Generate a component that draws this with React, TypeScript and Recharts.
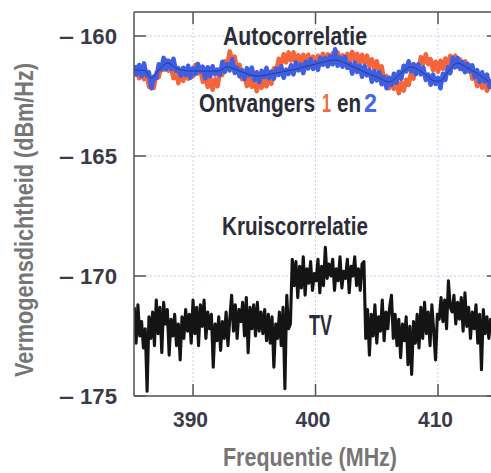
import React from 'react';
import { LineChart, Line, XAxis, YAxis, CartesianGrid } from 'recharts';

// assen
const X_DOMAIN: [number, number] = [385.18, 414.98];
const Y_DOMAIN: [number, number] = [-175, -159];
const X_TICKS = [390, 400, 410];
const Y_TICKS = [-175, -170, -165, -160];

// kruiscorrelatie, bemonsterd vanaf 385.2 MHz in stappen van 0.15 MHz
const KRUIS_START = 385.2;
const KRUIS_STEP = 0.15;
const kruiscorrelatie = [
  -171.3, -172.8, -171.2, -172.5, -171.9, -173.0, -172.2, -174.8, -171.7, -172.6,
  -171.5, -172.9, -171.0, -172.4, -171.3, -173.2, -171.1, -172.0, -171.4, -173.3,
  -171.8, -172.5, -171.6, -172.9, -172.0, -173.5, -171.7, -172.6, -171.4, -172.3,
  -171.6, -172.8, -171.0, -172.4, -171.3, -172.9, -171.2, -172.1, -171.0, -172.6,
  -171.5, -172.2, -171.6, -173.8, -172.0, -172.7, -171.7, -173.1, -171.9, -172.6,
  -171.5, -172.9, -171.8, -170.8, -172.3, -171.2, -172.6, -171.4, -171.9, -171.1,
  -172.5, -170.9, -173.2, -171.3, -172.2, -171.2, -172.5, -171.1, -172.3, -171.5,
  -172.4, -171.4, -172.7, -171.6, -172.8, -171.7, -173.8, -172.0, -172.6, -171.5,
  -172.9, -171.3, -174.7, -170.8, -172.2, -172.0,
  -169.3, -170.4, -169.4, -170.9, -169.6, -170.5, -169.2, -170.8, -169.7, -170.3,
  -169.4, -170.6, -169.9, -170.2, -169.3, -170.7, -169.6, -170.4, -168.8, -170.1,
  -169.5, -170.0, -169.3, -170.6, -169.7, -170.2, -169.2, -170.5, -169.8, -170.1,
  -169.3, -170.7, -169.6, -170.0, -169.2, -170.4, -169.7, -170.6, -169.5, -169.4,
  -172.6, -171.4, -173.3, -171.6, -172.5, -171.2, -172.8, -171.7, -172.3, -171.0,
  -172.7, -171.5, -172.2, -171.3, -170.8, -172.6, -171.6, -172.9, -171.8, -173.4,
  -172.0, -172.7, -171.7, -173.7, -172.1, -174.1, -171.9, -172.8, -171.6, -173.0,
  -171.3, -172.6, -171.1, -172.4, -171.5, -172.9, -171.2, -172.3, -173.5, -171.6,
  -171.8, -170.9, -171.9, -171.0, -172.2, -170.2, -171.3, -171.5, -170.8, -172.0,
  -171.1, -171.8, -170.9, -172.3, -170.7, -172.1, -171.3, -172.6, -171.5, -172.2,
  -171.2, -172.8, -171.6, -173.9, -171.4, -172.4, -171.7, -172.6, -171.8, -172.1,
];

// autocorrelatie, bemonsterd vanaf 385.2 MHz in stappen van 0.2 MHz
const AUTO_START = 385.2;
const AUTO_STEP = 0.2;
const ontvanger1 = [
  -161.68, -161.30, -161.76, -161.42, -161.80, -161.53, -162.11, -161.90, -162.16, -161.53,
  -161.72, -161.22, -161.41, -161.01, -161.45, -161.30, -161.76, -161.47, -161.97, -161.57,
  -161.87, -161.43, -161.78, -161.40, -161.68, -161.20, -161.56, -161.36, -161.91, -161.67,
  -162.12, -161.74, -162.24, -161.80, -162.10, -161.47, -161.62, -161.05, -161.16, -160.64,
  -161.08, -160.86, -161.41, -161.20, -161.80, -161.59, -162.09, -161.72, -162.12, -161.76,
  -162.30, -161.86, -162.16, -161.74, -162.10, -161.67, -161.99, -161.34, -161.45, -160.95,
  -161.18, -160.76, -161.10, -160.68, -161.02, -160.68, -161.12, -160.80, -161.18, -160.78,
  -161.16, -160.78, -161.24, -160.86, -161.24, -160.82, -161.12, -160.74, -161.14, -160.76,
  -161.14, -160.72, -161.06, -160.68, -161.16, -160.80, -161.18, -160.74, -161.08, -160.66,
  -161.03, -160.74, -161.16, -160.78, -161.12, -160.82, -161.26, -160.97, -161.39, -161.05,
  -161.47, -161.26, -161.87, -161.67, -162.18, -161.82, -162.20, -161.86, -162.38, -161.94,
  -162.28, -161.82, -162.04, -161.53, -161.78, -161.22, -161.39, -160.88, -161.14, -160.76,
  -161.18, -160.96, -161.43, -161.07, -161.49, -161.03, -161.37, -160.94, -161.24, -160.82,
  -161.12, -160.82, -161.26, -160.97, -161.39, -161.05, -161.47, -161.22, -161.78, -161.59,
  -162.09, -161.74, -162.16, -161.78, -162.28, -162.07, -161.95,
];
const ontvanger2 = [
  -161.22, -161.60, -161.21, -161.68, -161.14, -161.64, -161.51, -162.18, -161.69, -161.76,
  -161.18, -161.39, -160.91, -161.39, -161.03, -161.37, -160.95, -161.45, -161.34, -161.66,
  -161.32, -161.62, -161.24, -161.74, -161.34, -161.58, -161.16, -161.48, -161.28, -161.76,
  -161.30, -161.68, -161.26, -161.60, -161.40, -161.62, -161.07, -161.49, -161.17, -161.43,
  -160.97, -161.54, -161.32, -161.68, -161.42, -161.80, -161.34, -161.64, -161.32, -161.83,
  -161.51, -161.93, -161.45, -161.71, -161.33, -161.76, -161.48, -161.78, -161.36, -161.62,
  -161.26, -161.74, -161.40, -161.58, -161.22, -161.60, -161.10, -161.43, -161.19, -161.55,
  -161.07, -161.35, -160.97, -161.37, -161.09, -161.41, -160.91, -161.20, -160.92, -161.26,
  -160.84, -161.18, -160.55, -161.24, -160.90, -161.28, -160.87, -161.33, -161.15, -161.57,
  -161.11, -161.50, -161.24, -161.70, -161.24, -161.64, -161.42, -161.91, -161.47, -161.85,
  -161.51, -162.01, -161.71, -162.18, -161.74, -162.04, -161.57, -161.95, -161.49, -161.78,
  -161.24, -161.48, -161.05, -161.47, -161.17, -161.59, -161.18, -161.60, -161.30, -161.83,
  -161.61, -162.03, -161.61, -162.00, -161.74, -162.18, -161.57, -161.83, -161.30, -161.55,
  -160.91, -161.31, -160.91, -161.37, -161.09, -161.51, -161.15, -161.48, -161.22, -161.72,
  -161.42, -161.91, -161.51, -161.89, -161.61, -162.12, -161.80,
];

// donkere middenlijn in de blauwe band
const middenFreq = [
  385.2, 386.0, 386.6, 387.2, 387.9, 388.8, 389.8, 391.0, 392.0, 392.8,
  393.8, 395.2, 396.8, 398.4, 400.0, 401.6, 402.6, 403.8, 405.2, 406.0,
  406.8, 407.8, 408.8, 409.8, 410.2, 410.8, 411.6, 412.4, 413.4, 414.2,
];
const midden = [
  -161.42, -161.42, -161.75, -161.42, -161.13, -161.38, -161.46, -161.46, -161.46, -161.29,
  -161.46, -161.67, -161.54, -161.38, -161.17, -161.0, -161.17, -161.46, -161.75, -161.92,
  -161.63, -161.29, -161.54, -161.88, -161.88, -161.5, -161.13, -161.33, -161.63, -161.92,
];

const toRows = (start: number, step: number, values: number[]) =>
  values.map((v, i) => ({ f: +(start + i * step).toFixed(3), v }));

const kruisRows = toRows(KRUIS_START, KRUIS_STEP, kruiscorrelatie);
const ont1Rows = toRows(AUTO_START, AUTO_STEP, ontvanger1);
const ont2Rows = toRows(AUTO_START, AUTO_STEP, ontvanger2);
const middenRows = middenFreq.map((f, i) => ({ f, v: midden[i] }));

const FONT = "'Liberation Sans', Arial, sans-serif";
const TICK_COLOR = '#3a3a48';
const TEXT_COLOR = '#2c2c38';
const TITLE_COLOR = '#767676';
const FRAME = '#555';

// ticks naar binnen gericht, labels buiten
const LeftTick = (p: any) => (
  <g fontFamily={FONT} fontSize={22} fontWeight="bold" fill={TICK_COLOR}>
    <line x1={p.x + 8} x2={p.x + 20} y1={p.y} y2={p.y} stroke={FRAME} strokeWidth={1.5} />
    <text x={p.x - 67} y={p.y + 8} textLength={15} lengthAdjust="spacingAndGlyphs">–</text>
    <text x={p.x - 9} y={p.y + 8} textAnchor="end" textLength={37} lengthAdjust="spacingAndGlyphs">
      {Math.abs(p.payload.value)}
    </text>
  </g>
);
const RightTick = (p: any) => (
  <line x1={p.x - 20} x2={p.x - 8} y1={p.y} y2={p.y} stroke={FRAME} strokeWidth={1.5} />
);
const BottomTick = (p: any) => (
  <g>
    <line x1={p.x} x2={p.x} y1={p.y - 20} y2={p.y - 8} stroke={FRAME} strokeWidth={1.5} />
    <text x={p.x - 2.5} y={p.y + 23} textAnchor="middle" fontFamily={FONT} fontSize={22} fontWeight="bold"
      fill={TICK_COLOR} textLength={35} lengthAdjust="spacingAndGlyphs">
      {p.payload.value}
    </text>
  </g>
);
const TopTick = (p: any) => (
  <line x1={p.x} x2={p.x} y1={p.y + 8} y2={p.y + 20} stroke={FRAME} strokeWidth={1.5} />
);

export default function App() {
  return (
    <div style={{ position: 'fixed', left: 0, top: 0, width: 491, height: 473, overflow: 'hidden', background: '#fff' }}>
      <LineChart width={500} height={473} margin={{ top: 0, right: 0, bottom: 0, left: 0 }}>
        <CartesianGrid xAxisId="b" yAxisId="l" stroke="#cdcdea" strokeDasharray="2 2" />
        <XAxis
          xAxisId="b" type="number" dataKey="f" domain={X_DOMAIN} ticks={X_TICKS} allowDataOverflow
          height={77} interval={0} tickLine={false} tickSize={6} tickMargin={2}
          axisLine={{ stroke: FRAME, strokeWidth: 1.5 }} tick={BottomTick}
        />
        <XAxis
          xAxisId="t" orientation="top" type="number" dataKey="f" domain={X_DOMAIN} ticks={X_TICKS} allowDataOverflow
          height={12} interval={0} tickLine={false} tickSize={6} tickMargin={2}
          axisLine={{ stroke: FRAME, strokeWidth: 1.5 }} tick={TopTick}
        />
        <YAxis
          yAxisId="l" type="number" domain={Y_DOMAIN} ticks={Y_TICKS} allowDataOverflow
          width={134} interval={0} tickLine={false} tickSize={6} tickMargin={2}
          axisLine={{ stroke: FRAME, strokeWidth: 1.5 }} tick={LeftTick}
        />
        <YAxis
          yAxisId="r" orientation="right" type="number" domain={Y_DOMAIN} ticks={Y_TICKS} allowDataOverflow
          width={1} interval={0} tickLine={false} tickSize={6} tickMargin={2}
          axisLine={false} tick={RightTick}
        />

        <Line xAxisId="b" yAxisId="l" data={ont1Rows} dataKey="v" type="linear" stroke="#f5653c"
          strokeWidth={4.5} strokeLinejoin="round" dot={false} isAnimationActive={false} />
        <Line xAxisId="b" yAxisId="l" data={ont2Rows} dataKey="v" type="linear" stroke="#3f5fe2"
          strokeWidth={4.5} strokeLinejoin="round" dot={false} isAnimationActive={false} />
        <Line xAxisId="b" yAxisId="l" data={middenRows} dataKey="v" type="monotone" stroke="#1e2a66"
          strokeOpacity={0.7} strokeWidth={1} dot={false} isAnimationActive={false} />
        <Line xAxisId="b" yAxisId="l" data={kruisRows} dataKey="v" type="linear" stroke="#141414"
          strokeWidth={3.1} strokeLinejoin="round" dot={false} isAnimationActive={false} />
      </LineChart>

      <svg width={491} height={473} style={{ position: 'absolute', left: 0, top: 0, pointerEvents: 'none' }}>
        <g fontFamily={FONT} fontWeight="bold" fontSize={25}>
          <text x={223} y={45} fill={TEXT_COLOR} textLength={144} lengthAdjust="spacingAndGlyphs">Autocorrelatie</text>
          <text x={199} y={112} fill={TEXT_COLOR} textLength={116} lengthAdjust="spacingAndGlyphs">Ontvangers</text>
          <text x={322} y={112} fill="#f26a3c" textLength={9} lengthAdjust="spacingAndGlyphs">1</text>
          <text x={337} y={112} fill={TEXT_COLOR} textLength={24} lengthAdjust="spacingAndGlyphs">en</text>
          <text x={364} y={112} fill="#4668e0" textLength={13} lengthAdjust="spacingAndGlyphs">2</text>
          <text x={222} y={235} fill={TEXT_COLOR} textLength={146} lengthAdjust="spacingAndGlyphs">Kruiscorrelatie</text>
          <text x={309} y={335} fill={TEXT_COLOR} fontSize={29} textLength={23} lengthAdjust="spacingAndGlyphs">TV</text>
          <text x={223} y={466} fill={TITLE_COLOR} textLength={174} lengthAdjust="spacingAndGlyphs">Frequentie (MHz)</text>
          <text x={33} y={377} fill={TITLE_COLOR} transform="rotate(-90 33 377)" textLength={314} lengthAdjust="spacingAndGlyphs">
            Vermogensdichtheid (dBm/Hz)
          </text>
        </g>
      </svg>
    </div>
  );
}
